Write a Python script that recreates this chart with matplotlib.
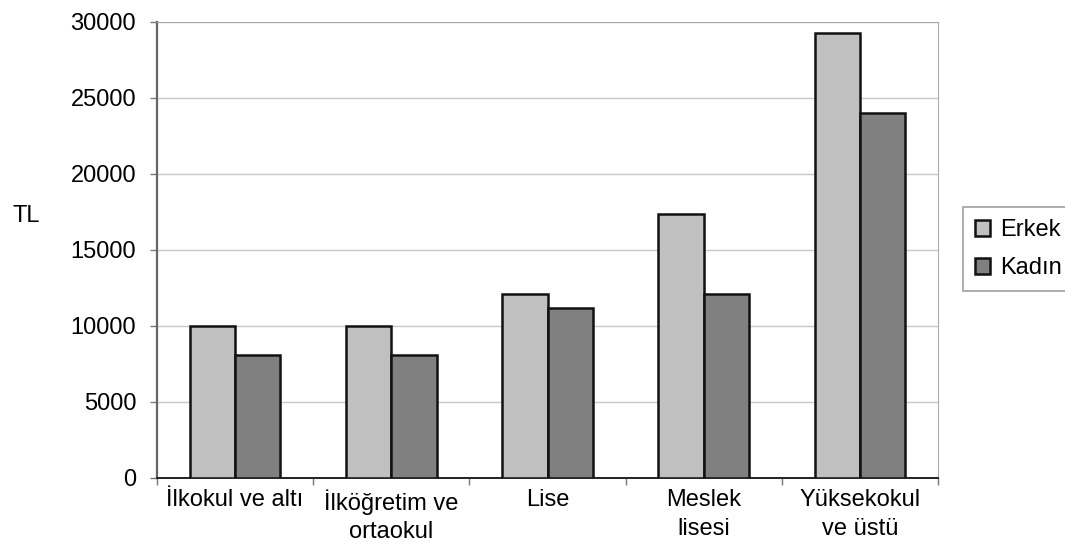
import numpy as np
import matplotlib.pyplot as plt

plt.rcParams['font.family'] = ['Liberation Sans', 'DejaVu Sans']

# ortalama yillik gelir, egitim durumuna gore (TL)
kategoriler = ['İlkokul ve altı', 'İlköğretim ve\nortaokul', 'Lise', 'Meslek\nlisesi', 'Yüksekokul\nve üstü']
erkek = [10000, 10000, 12100, 17400, 29300]
kadin = [8100, 8100, 11200, 12100, 24000]

fig = plt.figure(figsize=(10.65, 5.58), dpi=100)
ax = fig.add_axes([0.1474, 0.1434, 0.7334, 0.8172])

x = np.arange(len(kategoriler))
w = 0.29
ax.bar(x - w / 2, erkek, w, color='#c0c0c0', edgecolor='#111111', linewidth=1.8, label='Erkek', zorder=3)
ax.bar(x + w / 2, kadin, w, color='#808080', edgecolor='#111111', linewidth=1.8, label='Kadın', zorder=3)

ax.set_xlim(-0.5, len(kategoriler) - 0.5)
ax.set_ylim(0, 30000)
ax.set_yticks(np.arange(0, 30001, 5000))
ax.tick_params(axis='y', labelsize=17, length=5, width=1, color='#777777', pad=10)
ax.yaxis.grid(True, color='#c8c8c8', linewidth=1, zorder=0)

# kategori sinirlarinda kucuk cizgiler
ax.set_xticks(np.arange(-0.5, len(kategoriler), 1.0))
ax.set_xticklabels([])
ax.tick_params(axis='x', which='major', length=5, width=1, color='#777777')
ax.set_xticks(x, minor=True)
ax.set_xticklabels(kategoriler, minor=True, fontsize=17, linespacing=1.4)
ax.tick_params(axis='x', which='minor', length=0, pad=8)

for s in ['top', 'right']:
    ax.spines[s].set_color('#aaaaaa')
ax.spines['left'].set_color('#666666')
ax.spines['left'].set_linewidth(1.6)
ax.spines['bottom'].set_color('#222222')
ax.spines['bottom'].set_linewidth(1.4)

fig.text(0.012, 0.613, 'TL', fontsize=17, va='center', ha='left')

leg = ax.legend(loc='upper left', bbox_to_anchor=(1.032, 0.594), fontsize=17,
                frameon=True, fancybox=False, edgecolor='#888888',
                handlelength=0.65, handleheight=0.65, handletextpad=0.4,
                labelspacing=0.7, borderpad=0.5, borderaxespad=0)
leg.get_frame().set_linewidth(1.2)

fig.savefig('out.png', dpi=100)
